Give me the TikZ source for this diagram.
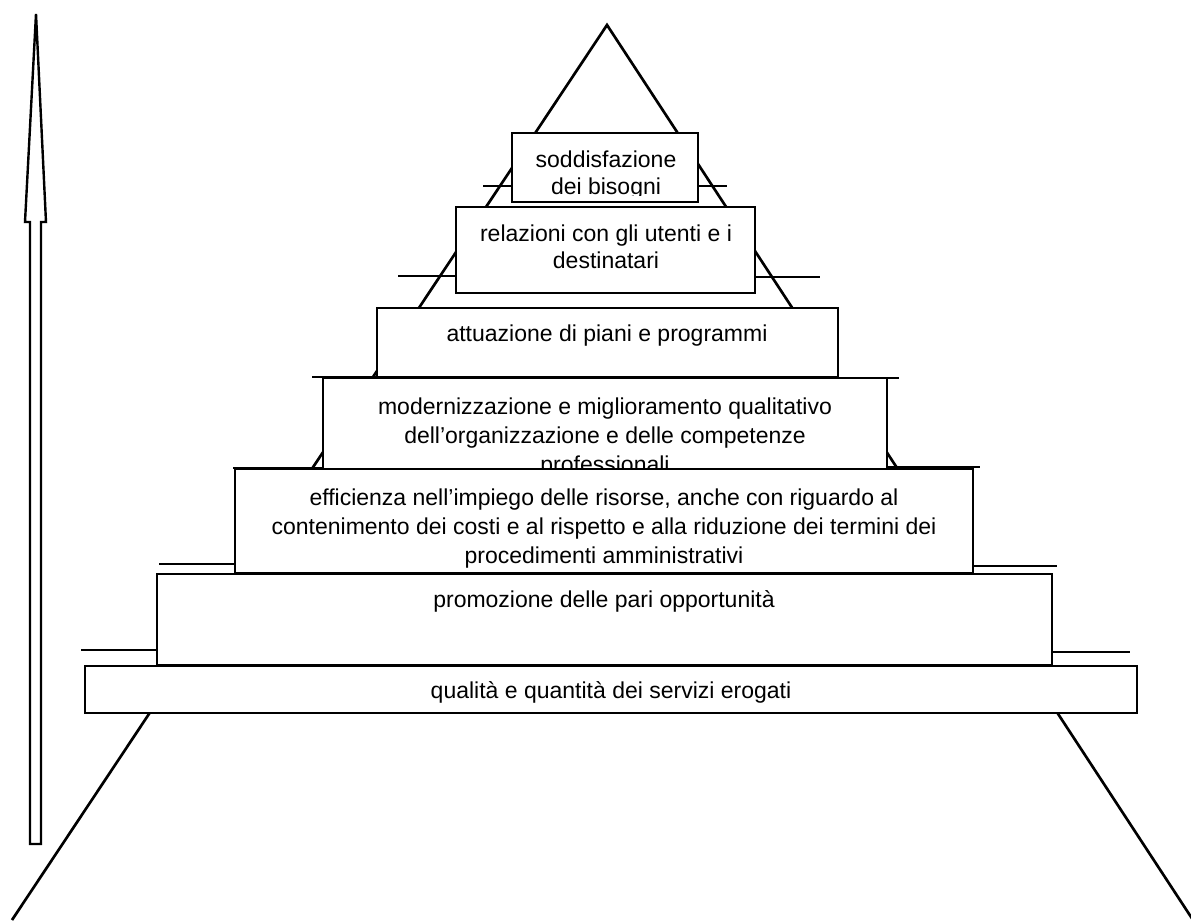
\documentclass[tikz,border=0pt]{standalone}
\usepackage{fontspec}
\setmainfont{Liberation Sans}
\begin{document}
\begin{tikzpicture}[x=0.75pt,y=-0.75pt,
  edge/.style={line width=2pt},
  boxstyle/.style={draw, line width=2pt, fill=white},
  lbl/.style={inner sep=0pt, align=center, anchor=north},
  fB/.style={font=\fontsize{17.25pt}{20.25pt}\selectfont},
  fC/.style={font=\fontsize{17.25pt}{21.75pt}\selectfont}
]
\useasboundingbox (0,0) rectangle (1191,920);

% vertical arrow
\draw[line width=1.8pt, line join=miter] (30,844) -- (30,222) -- (25,222) -- (36,14) -- (46,222) -- (41,222) -- (41,844) -- cycle;

% background pyramid
\coordinate (apex) at (607,25);
\coordinate (bl) at (12,920);
\coordinate (br) at (1193,920);
\draw[edge] (bl) -- (apex) -- (br);

% ledges
\draw[edge] (483,186) -- (512,186);
\draw[edge] (698,186) -- (727,186);
\draw[edge] (398,276) -- (456,276);
\draw[edge] (755,277) -- (820,277);
\draw[edge] (312,377) -- (377,377);
\draw[edge] (838,378) -- (899,378);
\draw[edge] (233,468) -- (323,468);
\draw[edge] (887,467) -- (980,467);
\draw[edge] (159,564) -- (235,564);
\draw[edge] (973,566) -- (1057,566);
\draw[edge] (81,650) -- (157,650);
\draw[edge] (1052,652) -- (1130,652);

% box 1
\draw[boxstyle] (512,133) rectangle (698,202);
\begin{scope}
\clip (512,133) rectangle (698,195);
\node[lbl, fB] (t1) at (606,148) {\strut soddisfazione\\dei bisogni};
\end{scope}

% box 2
\draw[boxstyle] (456,207) rectangle (755,293);
\node[lbl, fB] (t2) at (606,222) {\strut relazioni con gli utenti e i\\destinatari};

% box 3
\draw[boxstyle] (377,308) rectangle (838,377);
\node[lbl, fC] (t3) at (607,321) {\strut attuazione di piani e programmi};

% box 4
\draw[boxstyle] (323,378) rectangle (887,469);
\node[lbl, fC] (t4) at (605,393.5) {\strut modernizzazione e miglioramento qualitativo\\dell’organizzazione e delle competenze\\professionali};

% box 5
\draw[boxstyle] (235,469) rectangle (973,573);
\node[lbl, fC] (t5) at (604,484.5) {\strut efficienza nell’impiego delle risorse, anche con riguardo al\\contenimento dei costi e al rispetto e alla riduzione dei termini dei\\procedimenti amministrativi};

% box 6
\draw[boxstyle] (157,574) rectangle (1052,665);
\node[lbl, fC] (t6) at (604,587) {\strut promozione delle pari opportunità};

% box 7
\draw[boxstyle] (85,666) rectangle (1137,713);
\node[lbl, fC] (t7) at (611,677.5) {\strut qualità e quantità dei servizi erogati};
\end{tikzpicture}
\end{document}
